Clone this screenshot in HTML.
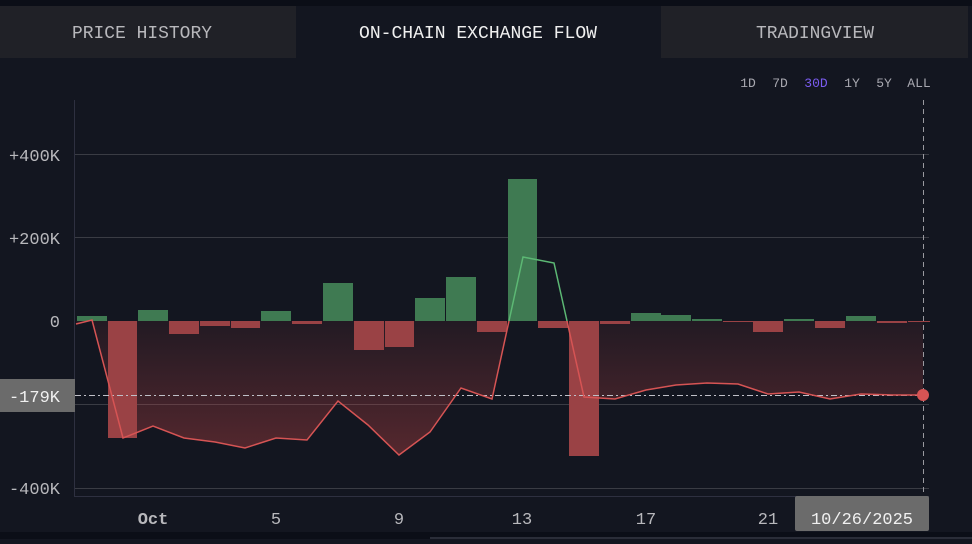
<!DOCTYPE html>
<html><head><meta charset="utf-8"><style>
body{margin:0;width:972px;height:539px;overflow:hidden;background:#131620;font-family:"Liberation Mono",monospace;}
</style></head><body>
<svg width="972" height="539" viewBox="0 0 972 539" xmlns="http://www.w3.org/2000/svg" font-family="Liberation Mono, monospace">
<defs>
<linearGradient id="g" x1="0" y1="321" x2="0" y2="455" gradientUnits="userSpaceOnUse">
<stop offset="0" stop-color="#d04848" stop-opacity="0.08"/>
<stop offset="1" stop-color="#d04848" stop-opacity="0.35"/>
</linearGradient>
</defs>
<rect width="972" height="539" fill="#131620"/>
<rect width="972" height="6" fill="#0b0e17"/>
<rect x="0" y="6" width="296" height="52" fill="#202127"/>
<rect x="661" y="6" width="307" height="52" fill="#202127"/>
<g font-size="18" textLength="0">
<text x="142" y="38" fill="#b8b8bc" text-anchor="middle" textLength="140" lengthAdjust="spacingAndGlyphs">PRICE HISTORY</text>
<text x="478" y="38" fill="#f0f0f0" text-anchor="middle" textLength="238" lengthAdjust="spacingAndGlyphs">ON-CHAIN EXCHANGE FLOW</text>
<text x="815" y="38" fill="#b8b8bc" text-anchor="middle" textLength="118" lengthAdjust="spacingAndGlyphs">TRADINGVIEW</text>
</g>
<g font-size="13" fill="#a8a8b0" text-anchor="middle">
<text x="748" y="87">1D</text><text x="780" y="87">7D</text><text x="816" y="87" fill="#7b5cf0">30D</text><text x="852" y="87">1Y</text><text x="884" y="87">5Y</text><text x="919" y="87">ALL</text>
</g>
<g stroke="#3a3c44" stroke-width="1">
<line x1="75" y1="154.5" x2="929" y2="154.5"/>
<line x1="75" y1="237.5" x2="929" y2="237.5"/>
<line x1="75" y1="404.5" x2="929" y2="404.5"/>
<line x1="75" y1="488.5" x2="929" y2="488.5"/>
</g>
<line x1="74.5" y1="100" x2="74.5" y2="496" stroke="#2e3040"/>
<line x1="74" y1="496.5" x2="929" y2="496.5" stroke="#2e3040"/>
<g font-size="17" fill="#b8b8bc" text-anchor="end">
<text x="60" y="161">+400K</text><text x="60" y="244">+200K</text><text x="60" y="327">0</text><text x="60" y="494">-400K</text>
</g>
<path d="M76,321 L76,324 L92,320 L123,438 L153,426 L184,438 L215,442 L245,448 L276,438 L307,440 L338,401 L368,425 L399,455 L430,432 L461,388 L492,399 L509,321 Z M567,321 L584,397 L615,399 L646,390 L676,385 L707,383 L738,384 L768,394 L799,392 L830,399 L861,394 L892,395 L923,395 L923,321 Z" fill="url(#g)"/>
<g fill="#3f7a52">
<rect x="77" y="316" width="30" height="5"/>
<rect x="138" y="310" width="30" height="11"/>
<rect x="261" y="311" width="30" height="10"/>
<rect x="323" y="283" width="30" height="38"/>
<rect x="415" y="298" width="30" height="23"/>
<rect x="446" y="277" width="30" height="44"/>
<rect x="508" y="179" width="29" height="142"/>
<rect x="631" y="313" width="30" height="8"/>
<rect x="661" y="315" width="30" height="6"/>
<rect x="692" y="319" width="30" height="2"/>
<rect x="784" y="319" width="30" height="2"/>
<rect x="846" y="316" width="30" height="5"/>
</g>
<g fill="#9a4245">
<rect x="108" y="321" width="29" height="117"/>
<rect x="169" y="321" width="30" height="13"/>
<rect x="200" y="321" width="30" height="5"/>
<rect x="231" y="321" width="29" height="7"/>
<rect x="292" y="321" width="30" height="3"/>
<rect x="354" y="321" width="30" height="29"/>
<rect x="385" y="321" width="29" height="26"/>
<rect x="477" y="321" width="30" height="11"/>
<rect x="538" y="321" width="30" height="7"/>
<rect x="569" y="321" width="30" height="135"/>
<rect x="600" y="321" width="30" height="3"/>
<rect x="723" y="321" width="30" height="1"/>
<rect x="753" y="321" width="30" height="11"/>
<rect x="815" y="321" width="30" height="7"/>
<rect x="877" y="321" width="30" height="2"/>
<rect x="908" y="321" width="22" height="1"/>
</g>
<line x1="75" y1="395.5" x2="923" y2="395.5" stroke="#c0c0c8" stroke-width="1" stroke-dasharray="6,3,2,3"/>
<polyline points="76,324 92,320 123,438 153,426 184,438 215,442 245,448 276,438 307,440 338,401 368,425 399,455 430,432 461,388 492,399 509,321" fill="none" stroke="#d65454" stroke-width="1.5"/>
<polyline points="509,321 523,257 554,263 567,321" fill="none" stroke="#5cb874" stroke-width="1.5"/>
<polyline points="567,321 584,397 615,399 646,390 676,385 707,383 738,384 768,394 799,392 830,399 861,394 892,395 923,395" fill="none" stroke="#d65454" stroke-width="1.5"/>
<line x1="923.5" y1="100" x2="923.5" y2="496" stroke="#9a9aa0" stroke-dasharray="5,4"/>
<circle cx="923" cy="395" r="6" fill="#d65454"/>
<rect x="0" y="379" width="75" height="33" fill="#6b6b6b"/>
<text x="60" y="402" fill="#f0f0f0" font-size="17" text-anchor="end">-179K</text>
<g font-size="17" fill="#b8b8bc" text-anchor="middle">
<text x="153" y="524" font-weight="bold">Oct</text><text x="276" y="524">5</text><text x="399" y="524">9</text><text x="522" y="524">13</text><text x="646" y="524">17</text><text x="768" y="524">21</text>
</g>
<rect x="795" y="496" width="134" height="35" rx="2" fill="#6b6b6b"/>
<text x="862" y="524" fill="#f0f0f0" font-size="17" text-anchor="middle">10/26/2025</text>
<rect x="0" y="532" width="972" height="7" fill="#0b0e17"/>
<rect x="430" y="537" width="542" height="2" fill="#2a2d38"/>
</svg>
</body></html>
